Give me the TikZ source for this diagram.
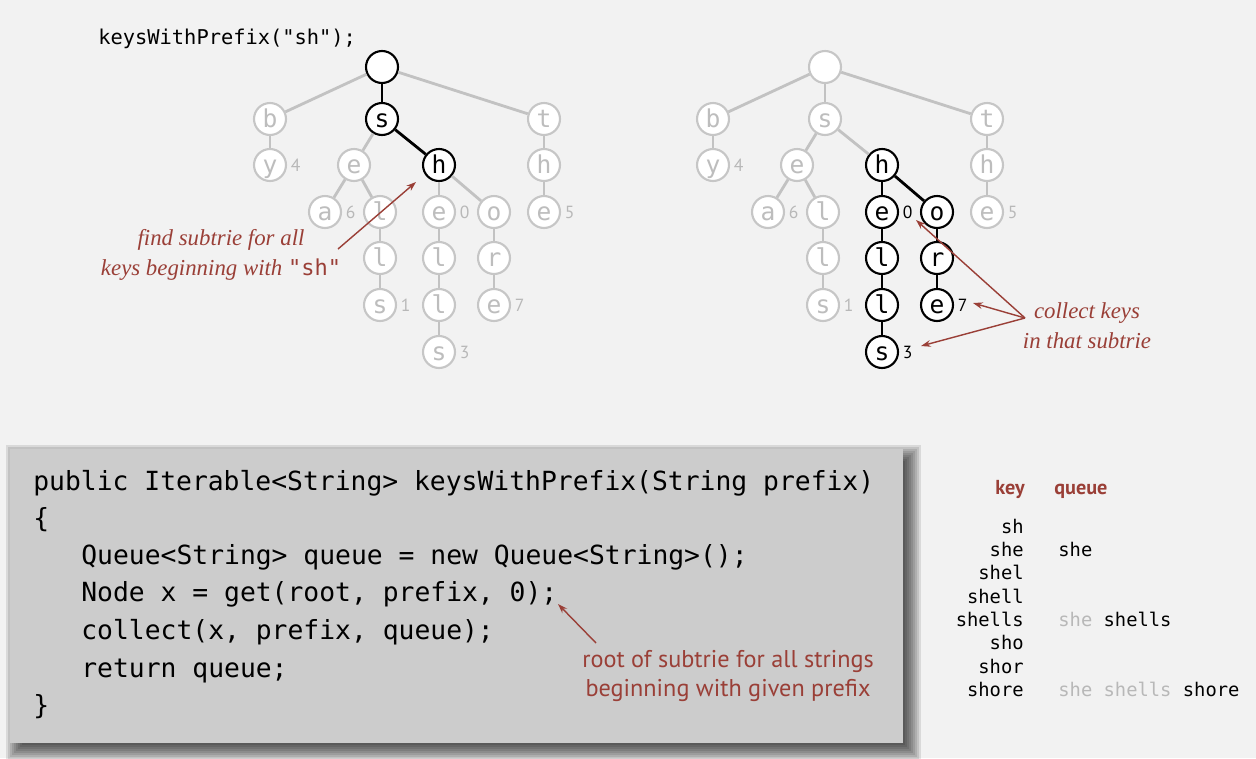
\documentclass[tikz,border=0pt]{standalone}
\usepackage{fontspec}
\setmainfont{Liberation Serif}
\setmonofont{DejaVu Sans Mono}
\newfontfamily\notesans{PT Sans}
\newfontfamily\digitsans{PT Sans}
\usetikzlibrary{arrows.meta}

\definecolor{bgc}{HTML}{F2F2F2}
\definecolor{boxc}{HTML}{CCCCCC}
\definecolor{notered}{HTML}{9A3F37}
\definecolor{edgegray}{HTML}{C2C2C2}
\definecolor{nodegray}{HTML}{C6C6C6}
\definecolor{lettergray}{HTML}{BDBDBD}
\definecolor{qgray}{HTML}{B8B8B8}

\tikzset{
  tn/.style={circle, minimum size=0.64cm, inner sep=0pt, fill=white, line width=1.2pt,
    font=\ttfamily\fontsize{14}{14}\selectfont, text height=9.5pt, text depth=0.4pt},
  gn/.style={tn, draw=nodegray, text=lettergray},
  bn/.style={tn, draw=black, text=black},
  ge/.style={draw=edgegray, line width=1.6pt},
  be/.style={draw=black, line width=1.6pt},
  val/.style={anchor=west, inner sep=2pt, font=\digitsans\fontsize{10}{10}\selectfont},
  gv/.style={val, text=qgray},
  bv/.style={val, text=black},
  code/.style={anchor=base west, inner sep=0pt, font=\ttfamily\fontsize{15}{18}\selectfont},
  tbl/.style={inner sep=0pt, font=\ttfamily\fontsize{10.7}{12}\selectfont},
  head/.style={inner sep=0pt, text=notered, font=\digitsans\bfseries\fontsize{11.5}{12}\selectfont},
  itnote/.style={align=center, text=notered, inner sep=0pt, font=\itshape\fontsize{13}{17}\selectfont},
  sfnote/.style={align=center, text=notered, inner sep=0pt, font=\notesans\fontsize{13.8}{16}\selectfont},
  arr/.style={draw=notered, line width=0.8pt, -{Stealth[length=5.5pt,width=3.8pt]}},
  codebox/.style={fill=boxc, inner sep=0pt, anchor=north west,
    minimum width=17.86cm, minimum height=5.88cm},
}

\begin{document}
\begin{tikzpicture}[x=0.02cm,y=-0.02cm]
\useasboundingbox (0,0) rectangle (1256,758);
\fill[bgc] (0,0) rectangle (1256,758);

% call shown above the first trie
\node[anchor=base west, inner sep=0pt, font=\ttfamily\fontsize{11.6}{12}\selectfont] (title) at (98,44) {keysWithPrefix("sh");};

% ---------- first trie: search path to the prefix node ----------
\node[bn] (Lroot) at (382,67) {};
\node[gn] (Lb) at (270,119) {b};
\node[bn] (Ls) at (382,119) {s};
\node[gn] (Lt) at (544,119) {t};
\node[gn] (Ly) at (270,165) {y};
\node[gn] (Le) at (354,165) {e};
\node[bn] (Lh) at (439,165) {h};
\node[gn] (Lth) at (544,165) {h};
\node[gn] (La) at (325,212) {a};
\node[gn] (Ll1) at (380,212) {l};
\node[gn] (Le0) at (439,212) {e};
\node[gn] (Lo) at (494,212) {o};
\node[gn] (Le5) at (544,212) {e};
\node[gn] (Ll2) at (380,258) {l};
\node[gn] (Ll3) at (439,258) {l};
\node[gn] (Lr) at (494,258) {r};
\node[gn] (Ls1) at (380,305) {s};
\node[gn] (Ll4) at (439,305) {l};
\node[gn] (Le7) at (494,305) {e};
\node[gn] (Ls3) at (439,352) {s};

\node[gv] (Lvy) at (Ly.east) {4};
\node[gv] (Lva) at (La.east) {6};
\node[gv] (Lve0) at (Le0.east) {0};
\node[gv] (Lve5) at (Le5.east) {5};
\node[gv] (Lvs1) at (Ls1.east) {1};
\node[gv] (Lve7) at (Le7.east) {7};
\node[gv] (Lvs3) at (Ls3.east) {3};

\draw[ge] (Lroot) -- (Lb);
\draw[ge] (Lroot) -- (Lt);
\draw[be] (Lroot) -- (Ls);
\draw[ge] (Lb) -- (Ly);
\draw[ge] (Ls) -- (Le);
\draw[be] (Ls) -- (Lh);
\draw[ge] (Le) -- (La);
\draw[ge] (Le) -- (Ll1);
\draw[ge] (Ll1) -- (Ll2);
\draw[ge] (Ll2) -- (Ls1);
\draw[ge] (Lh) -- (Le0);
\draw[ge] (Le0) -- (Ll3);
\draw[ge] (Ll3) -- (Ll4);
\draw[ge] (Ll4) -- (Ls3);
\draw[ge] (Lh) -- (Lo);
\draw[ge] (Lo) -- (Lr);
\draw[ge] (Lr) -- (Le7);
\draw[ge] (Lt) -- (Lth);
\draw[ge] (Lth) -- (Le5);

\node[itnote] (noteL) at (221,255) {find subtrie for all\\keys beginning with {\upshape\ttfamily\fontsize{12.5}{17}\selectfont "sh"}};
\coordinate (noteLtail) at (338,249);
\coordinate (noteLtip) at (416,182);
\draw[arr] (noteLtail) -- (noteLtip);

% ---------- second trie: the subtrie that is collected ----------
\node[gn] (Rroot) at (825,67) {};
\node[gn] (Rb) at (713,119) {b};
\node[gn] (Rs) at (825,119) {s};
\node[gn] (Rt) at (987,119) {t};
\node[gn] (Ry) at (713,165) {y};
\node[gn] (Re) at (797,165) {e};
\node[bn] (Rh) at (882,165) {h};
\node[gn] (Rth) at (987,165) {h};
\node[gn] (Ra) at (768,212) {a};
\node[gn] (Rl1) at (823,212) {l};
\node[bn] (Re0) at (882,212) {e};
\node[bn] (Ro) at (937,212) {o};
\node[gn] (Re5) at (987,212) {e};
\node[gn] (Rl2) at (823,258) {l};
\node[bn] (Rl3) at (882,258) {l};
\node[bn] (Rr) at (937,258) {r};
\node[gn] (Rs1) at (823,305) {s};
\node[bn] (Rl4) at (882,305) {l};
\node[bn] (Re7) at (937,305) {e};
\node[bn] (Rs3) at (882,352) {s};

\node[gv] (Rvy) at (Ry.east) {4};
\node[gv] (Rva) at (Ra.east) {6};
\node[bv] (Rve0) at (Re0.east) {0};
\node[gv] (Rve5) at (Re5.east) {5};
\node[gv] (Rvs1) at (Rs1.east) {1};
\node[bv] (Rve7) at (Re7.east) {7};
\node[bv] (Rvs3) at (Rs3.east) {3};

\draw[ge] (Rroot) -- (Rb);
\draw[ge] (Rroot) -- (Rt);
\draw[ge] (Rroot) -- (Rs);
\draw[ge] (Rb) -- (Ry);
\draw[ge] (Rs) -- (Re);
\draw[ge] (Rs) -- (Rh);
\draw[ge] (Re) -- (Ra);
\draw[ge] (Re) -- (Rl1);
\draw[ge] (Rl1) -- (Rl2);
\draw[ge] (Rl2) -- (Rs1);
\draw[be] (Rh) -- (Re0);
\draw[be] (Re0) -- (Rl3);
\draw[be] (Rl3) -- (Rl4);
\draw[be] (Rl4) -- (Rs3);
\draw[be] (Rh) -- (Ro);
\draw[be] (Ro) -- (Rr);
\draw[be] (Rr) -- (Re7);
\draw[ge] (Rt) -- (Rth);
\draw[ge] (Rth) -- (Re5);

\node[itnote] (noteR) at (1087,326) {collect keys\\in that subtrie};
\coordinate (noteRtail) at (1025,318);
\coordinate (tip0) at (916,220);
\coordinate (tip7) at (973,303);
\coordinate (tip3) at (921,346);
\draw[arr] (noteRtail) -- (tip0);
\draw[arr] (noteRtail) -- (tip7);
\draw[arr] (noteRtail) -- (tip3);

% ---------- code box with a soft drop shadow ----------
\foreach \e in {11,9,...,-11}
  \fill[black, fill opacity=0.1] (17-\e,456-\e) rectangle (910+\e,750+\e);
\node[codebox] (box) at (10,449) {};
\node[code] (c1) at (33,490) {public Iterable<String> keysWithPrefix(String prefix)};
\node[code] (c2) at (33,527) {\{};
\node[code] (c3) at (81,564) {Queue<String> queue = new Queue<String>();};
\node[code] (c4) at (81,601) {Node x = get(root, prefix, 0);};
\node[code] (c5) at (81,639) {collect(x, prefix, queue);};
\node[code] (c6) at (81,677) {return queue;};
\node[code] (c7) at (33,714) {\}};

\node[sfnote] (rootnote) at (728,676) {root of subtrie for all strings\\beginning with given prefix};
\coordinate (rootnotetail) at (596,643);
\coordinate (rootnotetip) at (558,604);
\draw[arr] (rootnotetail) -- (rootnotetip);

% ---------- trace table ----------
\node[head, anchor=base east] (hkey) at (1025,494) {key};
\node[head, anchor=base west] (hqueue) at (1054,494) {queue};

\node[tbl, anchor=base east] (k1) at (1024,533) {sh};
\node[tbl, anchor=base east] (k2) at (1024,556.4) {she};
\node[tbl, anchor=base east] (k3) at (1024,579.7) {shel};
\node[tbl, anchor=base east] (k4) at (1024,603.1) {shell};
\node[tbl, anchor=base east] (k5) at (1024,626.4) {shells};
\node[tbl, anchor=base east] (k6) at (1024,649.8) {sho};
\node[tbl, anchor=base east] (k7) at (1024,673.1) {shor};
\node[tbl, anchor=base east] (k8) at (1024,696.5) {shore};

\node[tbl, anchor=base west] (q2) at (1058,556.4) {she};
\node[tbl, anchor=base west] (q5) at (1058,626.4) {{\color{qgray}she} shells};
\node[tbl, anchor=base west] (q8) at (1058,696.5) {{\color{qgray}she shells} shore};

\end{tikzpicture}
\end{document}
